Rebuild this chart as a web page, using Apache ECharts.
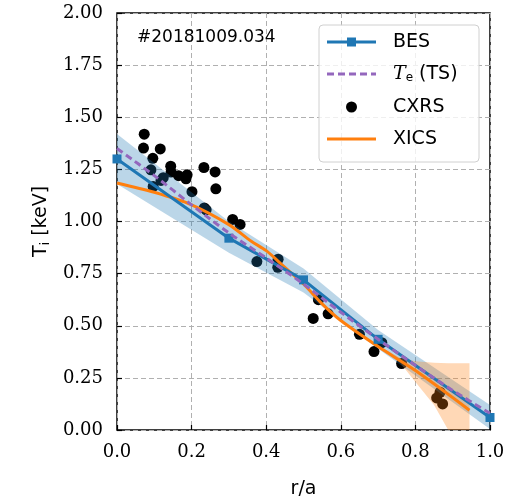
<!DOCTYPE html>
<html><head><meta charset="utf-8">
<script src="https://cdn.jsdelivr.net/npm/echarts@6/dist/echarts.min.js"></script>
<style>html,body{margin:0;padding:0;background:#fff}#c{width:510px;height:504px}</style>
</head><body><div id="c"></div>
<script>
// BES
const besR  = [0, 0.3, 0.5, 0.7, 1.0];
const besT  = [1.30, 0.92, 0.72, 0.435, 0.06];
const besHi = [1.42, 1.00, 0.775, 0.48, 0.12];
const besLo = [1.18, 0.85, 0.66, 0.39, 0.005];
// Te (TS)
const teR = [0, 0.1, 0.2, 0.3, 0.4, 0.5, 0.6, 0.7, 0.8, 0.9, 1.0];
const teT = [1.35, 1.22, 1.08, 0.945, 0.825, 0.70, 0.565, 0.435, 0.31, 0.19, 0.08];
// CXRS
const cxR = [0.073,0.071,0.116,0.096,0.091,0.144,0.145,0.124,0.118,0.097,0.165,0.188,0.185,0.233,0.263,0.265,0.201,0.234,0.239,0.310,0.330,0.375,0.432,0.431,0.540,0.526,0.566,0.650,0.710,0.689,0.763,0.866,0.857,0.873];
const cxT = [1.419,1.352,1.348,1.303,1.248,1.265,1.237,1.210,1.197,1.168,1.220,1.224,1.205,1.259,1.238,1.157,1.143,1.065,1.056,1.010,0.986,0.808,0.819,0.780,0.625,0.535,0.557,0.459,0.419,0.376,0.319,0.181,0.154,0.125];
// XICS
const xiR = [0, 0.1, 0.2, 0.3, 0.36, 0.4, 0.45, 0.5, 0.55, 0.6, 0.7, 0.8, 0.945];
const xiT = [1.185, 1.14, 1.08, 0.985, 0.905, 0.86, 0.78, 0.70, 0.605, 0.525, 0.40, 0.285, 0.095];
const xiBandR  = [0.70, 0.76, 0.80, 0.85, 0.888, 0.945];
const xiBandHi = [0.405, 0.345, 0.33, 0.322, 0.32, 0.32];
const xiBandLo = [0.395, 0.32, 0.23, 0.12, 0.0, 0.0];
// ticks
const yTicks = [0, 0.25, 0.5, 0.75, 1.0, 1.25, 1.5, 1.75, 2.0];
const xTicks = [0, 0.2, 0.4, 0.6, 0.8, 1.0];
const legendNames = ['BES', 'Te (TS)', 'CXRS', 'XICS'];

const zip = (a, b) => a.map((v, i) => [v, b[i]]);

const C_BES = '#1f77b4', C_TE = '#9467bd', C_XI = '#ff7f0e';

function bandSeries(name, R, Hi, Lo, color, z) {
  return {
    type: 'custom', name: name, z: z, silent: true, clip: true,
    data: zip(R, Hi),
    encode: {x: 0, y: 1},
    renderItem: function (params, api) {
      if (params.dataIndex !== 0) return null;
      const pts = [];
      for (let i = 0; i < R.length; i++) pts.push(api.coord([R[i], Hi[i]]));
      for (let i = R.length - 1; i >= 0; i--) pts.push(api.coord([R[i], Lo[i]]));
      return {type: 'polygon', shape: {points: pts}, style: {fill: color}};
    }
  };
}

const serif = 'DejaVu Serif';
const sans = 'DejaVu Sans';

// manual legend (graphic)
const LX = 319, LY = 25, LW = 160, LH = 137;
const rowY = [42, 74, 107, 139];
const iconX0 = 327, iconX1 = 376, textX = 393;
const legendGraphic = [
  {type: 'rect', z: 100, shape: {x: LX, y: LY, width: LW, height: LH, r: 4},
    style: {fill: 'rgba(255,255,255,0.8)', stroke: '#d0d0d0', lineWidth: 1}},
  {type: 'line', z: 101, shape: {x1: iconX0, y1: rowY[0], x2: iconX1, y2: rowY[0]}, style: {stroke: C_BES, lineWidth: 3}},
  {type: 'rect', z: 102, shape: {x: (iconX0 + iconX1) / 2 - 4.5, y: rowY[0] - 4.5, width: 9, height: 9}, style: {fill: C_BES}},
  {type: 'line', z: 101, shape: {x1: iconX0, y1: rowY[1], x2: iconX1, y2: rowY[1]}, style: {stroke: C_TE, lineWidth: 3, lineDash: [7, 4]}},
  {type: 'circle', z: 101, shape: {cx: (iconX0 + iconX1) / 2, cy: rowY[2], r: 5.5}, style: {fill: '#000'}},
  {type: 'line', z: 101, shape: {x1: iconX0, y1: rowY[3], x2: iconX1, y2: rowY[3]}, style: {stroke: C_XI, lineWidth: 3}},
  {type: 'text', z: 103, x: textX, y: rowY[0], style: {text: legendNames[0], fontFamily: sans, fontSize: 19, fill: '#000', verticalAlign: 'middle'}},
  {type: 'text', z: 103, x: textX, y: rowY[1], style: {text: '{i|T}{s|e}{n| (TS)}', verticalAlign: 'middle', fill: '#000',
    rich: {
      i: {fontFamily: serif, fontStyle: 'italic', fontSize: 19, fill: '#000'},
      s: {fontFamily: sans, fontSize: 12, fill: '#000', padding: [8, 0, 0, 0]},
      n: {fontFamily: sans, fontSize: 19, fill: '#000'}
    }}},
  {type: 'text', z: 103, x: textX, y: rowY[2], style: {text: legendNames[2], fontFamily: sans, fontSize: 19, fill: '#000', verticalAlign: 'middle'}},
  {type: 'text', z: 103, x: textX, y: rowY[3], style: {text: legendNames[3], fontFamily: sans, fontSize: 19, fill: '#000', verticalAlign: 'middle'}},
  {type: 'text', z: 50, x: 137, y: 38, style: {text: '#20181009.034', fontFamily: sans, fontSize: 17, fill: '#000', verticalAlign: 'middle'}}
];

const chart = echarts.init(document.getElementById('c'), null, {renderer: 'canvas'});
chart.setOption({
  animation: false,
  backgroundColor: '#fff',
  grid: {left: 117, right: 20, top: 13, bottom: 71, show: true, borderColor: '#000', borderWidth: 1.5, backgroundColor: 'transparent'},
  xAxis: {
    type: 'value', min: 0, max: 1, interval: 0.2,
    name: 'r/a', nameLocation: 'middle', nameGap: 50,
    nameTextStyle: {fontFamily: sans, fontSize: 19, color: '#000'},
    axisLine: {show: false},
    axisTick: {show: true, inside: true, length: 5, lineStyle: {color: '#000', width: 1.2}},
    axisLabel: {fontFamily: serif, fontSize: 18, color: '#000', margin: 13,
      formatter: v => xTicks.some(t => Math.abs(t - v) < 1e-9) ? v.toFixed(1) : ''},
    splitLine: {show: true, lineStyle: {color: '#b0b0b0', type: [5, 3], width: 1}}
  },
  yAxis: {
    type: 'value', min: 0, max: 2, interval: 0.25,
    name: 'T{s|i} [keV]', nameLocation: 'middle', nameGap: 62,
    nameTextStyle: {fontFamily: sans, fontSize: 19, color: '#000',
      rich: {s: {fontFamily: sans, fontSize: 13, color: '#000', padding: [8, 0, 0, 0]}}},
    axisLine: {show: false},
    axisTick: {show: true, inside: true, length: 5, lineStyle: {color: '#000', width: 1.2}},
    axisLabel: {fontFamily: serif, fontSize: 18, color: '#000', margin: 14,
      formatter: v => yTicks.some(t => Math.abs(t - v) < 1e-9) ? v.toFixed(2) : ''},
    splitLine: {show: true, lineStyle: {color: '#b0b0b0', type: [5, 3], width: 1}}
  },
  graphic: legendGraphic,
  series: [
    {name: 'CXRS', type: 'scatter', z: 1, data: zip(cxR, cxT), symbol: 'circle', symbolSize: 11,
      itemStyle: {color: '#000', opacity: 1}},
    bandSeries('besBand', besR, besHi, besLo, 'rgba(31,119,180,0.3)', 2),
    bandSeries('xiBand', xiBandR, xiBandHi, xiBandLo, 'rgba(255,127,14,0.3)', 2),
    {name: 'XICS', type: 'line', z: 3, data: zip(xiR, xiT), symbol: 'none', smooth: 0.3,
      lineStyle: {color: C_XI, width: 3}, itemStyle: {color: C_XI}},
    {name: 'BES', type: 'line', z: 4, data: zip(besR, besT), symbol: 'rect', symbolSize: 9, showSymbol: true,
      lineStyle: {color: C_BES, width: 3}, itemStyle: {color: C_BES}},
    {name: 'Te (TS)', type: 'line', z: 5, data: zip(teR, teT), symbol: 'none', smooth: 0.3,
      lineStyle: {color: C_TE, width: 3, type: [7, 4]}, itemStyle: {color: C_TE}}
  ]
});
</script></body></html>
